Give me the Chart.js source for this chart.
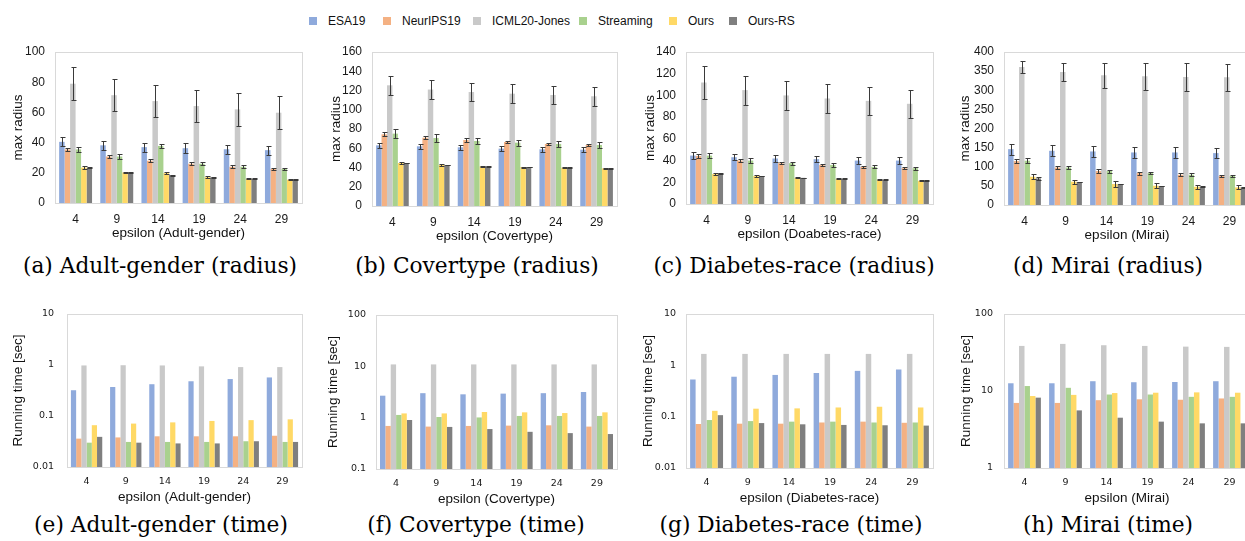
<!DOCTYPE html>
<html>
<head>
<meta charset="utf-8">
<script src="https://cdn.jsdelivr.net/npm/chart.js@4.4.1/dist/chart.umd.min.js"></script>
<style>
  body { margin: 0; width: 1245px; height: 541px; overflow: hidden; background: #fff; position: relative; }
  canvas { position: absolute; }
  .cap { position: absolute; font-family: "DejaVu Serif"; font-size: 21.7px; line-height: 22px; color: #000; white-space: nowrap; transform: translateX(-50%); }
  .lg-sw { position: absolute; top: 17px; width: 8px; height: 8px; }
  .lg-tx { position: absolute; top: 14px; font-family: "Liberation Sans"; font-size: 12px; line-height: 14px; color: #111; white-space: nowrap; }
</style>
</head>
<body>

<script>
// series / categories
var seriesNames = ['ESA19', 'NeurIPS19', 'ICML20-Jones', 'Streaming', 'Ours', 'Ours-RS'];
var seriesColors = ['#8faadc', '#f4b183', '#c9c9c9', '#a9d18e', '#ffd966', '#7f7f7f'];
var epsilons = ['4', '9', '14', '19', '24', '29'];

// rows follow seriesNames order
var adultRadius = [
    [40.5, 38.2, 37, 36.3, 35.6, 35],
    [35.5, 30.8, 28, 26, 24, 22.6],
    [79, 71.4, 67.5, 64.2, 62, 59.8],
    [35.5, 30.8, 37.8, 26, 24, 22.6],
    [23.5, 20.2, 19.8, 17.1, 16, 15.4],
    [23.3, 20.2, 18.5, 17, 16, 15.5]
];
var adultRadiusErr = [
    [3, 3, 3, 3.2, 3, 3],
    [1, 1, 1, 1, 1, 0.7],
    [10.8, 10.8, 10.7, 10.7, 11, 11],
    [1.5, 1.5, 1.5, 1, 1, 0.7],
    [1, 0.5, 0.5, 0.5, 0.3, 0.3],
    [0.3, 0.3, 0.3, 0.3, 0.3, 0.3]
];

var coverRadius = [
    [63, 62, 61, 59.6, 58.9, 58.5],
    [74.5, 71, 68.6, 66.5, 64.4, 63.4],
    [125.4, 121, 118.4, 116.7, 115.3, 114],
    [75.2, 70.6, 67.5, 65.8, 64.5, 63.4],
    [44.7, 42.6, 41.2, 40.5, 39.8, 39.1],
    [44.7, 42.6, 41.2, 40.5, 39.8, 39.1]
];
var coverRadiusErr = [
    [2.8, 2.8, 2.8, 2.8, 2.8, 2.8],
    [2, 1.7, 1.7, 1.5, 1.5, 1.5],
    [9.7, 10, 9.7, 9.9, 9.7, 9.7],
    [4.7, 4, 3.5, 3, 3, 3],
    [1, 0.8, 0.7, 0.5, 0.5, 0.5],
    [0.3, 0.3, 0.3, 0.3, 0.3, 0.3]
];

var diabRadius = [
    [44.6, 43.1, 41.9, 41.3, 40, 40],
    [44.3, 40, 37.6, 35.8, 34.2, 33],
    [111.9, 104.9, 100, 97.2, 95, 92.3],
    [44.6, 40, 37.6, 36, 34.2, 33],
    [27.5, 25.7, 24.1, 23.2, 22.3, 21.4],
    [28.1, 25.7, 24.1, 23.2, 22.3, 21.4]
];
var diabRadiusErr = [
    [3, 3, 3, 3, 3, 3],
    [1.5, 1, 1, 1, 1, 1],
    [15, 13.3, 13, 13, 12.8, 12.7],
    [2, 2, 1.5, 1.5, 1.5, 1.5],
    [1.2, 0.8, 0.4, 0.4, 0.4, 0.4],
    [0.3, 0.3, 0.3, 0.3, 0.3, 0.3]
];

var miraiRadius = [
    [146, 141.7, 140, 137.4, 137.4, 135.7],
    [114.8, 98, 88.7, 83.5, 79, 75.7],
    [361, 347.8, 339, 336.5, 334.8, 334],
    [115.7, 98, 88.7, 83.5, 79, 75.7],
    [74, 61, 54.8, 50.4, 47.8, 46],
    [69.6, 60, 54.8, 49.6, 47.8, 46]
];
var miraiRadiusErr = [
    [14, 14, 14, 14, 14, 14],
    [6, 5, 5, 4, 3.5, 3.5],
    [15, 23.5, 32.6, 35, 35.6, 35.6],
    [6, 5, 4, 3.5, 3.5, 3.5],
    [6, 5, 8, 7, 5, 5],
    [4, 1, 1, 1, 1, 1]
];

var adultTime = [
    [0.32, 0.37, 0.42, 0.48, 0.53, 0.57],
    [0.036, 0.038, 0.040, 0.040, 0.040, 0.041],
    [0.98, 0.99, 0.98, 0.94, 0.91, 0.91],
    [0.030, 0.031, 0.031, 0.031, 0.032, 0.031],
    [0.066, 0.071, 0.075, 0.080, 0.083, 0.086],
    [0.039, 0.030, 0.029, 0.029, 0.032, 0.031]
];
var coverTime = [
    [2.68, 3.0, 2.85, 2.94, 3.0, 3.16],
    [0.69, 0.67, 0.69, 0.70, 0.71, 0.67],
    [10.9, 10.9, 10.9, 10.9, 10.9, 10.9],
    [1.13, 1.03, 1.01, 1.08, 1.08, 1.08],
    [1.21, 1.21, 1.29, 1.27, 1.23, 1.27],
    [0.90, 0.66, 0.60, 0.53, 0.50, 0.48]
];
var diabTime = [
    [0.53, 0.60, 0.65, 0.71, 0.78, 0.83],
    [0.072, 0.073, 0.073, 0.077, 0.080, 0.076],
    [1.67, 1.67, 1.67, 1.67, 1.67, 1.67],
    [0.086, 0.082, 0.080, 0.080, 0.077, 0.077],
    [0.13, 0.143, 0.145, 0.151, 0.156, 0.151],
    [0.107, 0.075, 0.071, 0.069, 0.068, 0.067]
];
var miraiTime = [
    [12.6, 12.6, 13.4, 13.0, 13.1, 13.4],
    [7.0, 7.0, 7.6, 7.8, 7.7, 8.0],
    [38.5, 40.9, 39.3, 38.5, 37.7, 37.4],
    [11.6, 11.0, 9.0, 9.0, 8.4, 8.4],
    [8.6, 8.9, 9.4, 9.5, 9.6, 9.5],
    [8.2, 5.6, 4.5, 4.0, 3.8, 3.8]
];

// tick labels
var adultRadiusTicks = [0, 10, 20, 30, 40, 50, 60, 70, 80, 90, 100];
var coverRadiusTicks = [0, 20, 40, 60, 80, 100, 120, 140, 160];
var diabRadiusTicks = [0, 20, 40, 60, 80, 100, 120, 140];
var miraiRadiusTicks = [0, 50, 100, 150, 200, 250, 300, 350, 400];
var adultTimeTicks = [0.01, 0.1, 1, 10];
var coverTimeTicks = [0.1, 1, 10, 100];
var diabTimeTicks = [0.01, 0.1, 1, 10];
var miraiTimeTicks = [1, 10, 100];

// legend (Excel 스타일 위치)
var legendX = [309, 383, 473, 579, 669, 729];
seriesNames.forEach(function (name, i) {
    var sw = document.createElement('div');
    sw.className = 'lg-sw';
    sw.style.left = legendX[i] + 'px';
    sw.style.background = seriesColors[i];
    document.body.appendChild(sw);
    var tx = document.createElement('div');
    tx.className = 'lg-tx';
    tx.style.left = (legendX[i] + 19) + 'px';
    tx.textContent = name;
    document.body.appendChild(tx);
});

// 축 테두리
var framePlugin = {
    id: 'frame',
    beforeDatasetsDraw: function (chart) {
        var a = chart.chartArea, ctx = chart.ctx;
        ctx.save();
        ctx.strokeStyle = '#d9d9d9';
        ctx.lineWidth = 1;
        ctx.strokeRect(Math.round(a.left) + 0.5, Math.round(a.top) + 0.5,
            Math.round(a.right - a.left), Math.round(a.bottom - a.top));
        ctx.restore();
    }
};

function errorPlugin(errs) {
    return {
        id: 'errbars',
        afterDatasetsDraw: function (chart) {
            if (!errs) return;
            var ctx = chart.ctx, y = chart.scales.y;
            ctx.save();
            ctx.strokeStyle = '#3a3a3a';
            ctx.lineWidth = 1;
            chart.data.datasets.forEach(function (ds, i) {
                chart.getDatasetMeta(i).data.forEach(function (bar, j) {
                    var v = ds.data[j], e = errs[i][j];
                    var x = Math.round(bar.x) + 0.5;
                    var t = Math.round(y.getPixelForValue(v + e)) + 0.5;
                    var b = Math.round(y.getPixelForValue(v - e)) + 0.5;
                    ctx.beginPath();
                    ctx.moveTo(x, t); ctx.lineTo(x, b);
                    ctx.moveTo(x - 2, t); ctx.lineTo(x + 3, t);
                    ctx.moveTo(x - 2, b); ctx.lineTo(x + 3, b);
                    ctx.stroke();
                });
            });
            ctx.restore();
        }
    };
}

function drawPanel(p) {
    var cv = document.createElement('canvas');
    cv.width = p.cw; cv.height = p.ch;
    cv.style.left = p.cl + 'px'; cv.style.top = p.ct + 'px';
    cv.style.width = p.cw + 'px'; cv.style.height = p.ch + 'px';
    document.body.appendChild(cv);

    var cap = document.createElement('div');
    cap.className = 'cap';
    cap.style.left = p.capX + 'px';
    cap.style.top = p.capY + 'px';
    cap.textContent = p.caption;
    document.body.appendChild(cap);

    var datasets = p.values.map(function (row, i) {
        return {
            label: seriesNames[i],
            data: row,
            backgroundColor: seriesColors[i],
            borderWidth: 0,
            categoryPercentage: 0.8,
            barPercentage: 1.0
        };
    });

    var tickFont = p.log ? { family: 'DejaVu Sans', size: 9.5 } : { family: 'Liberation Sans', size: 12 };
    var ticks = p.ticks;

    new Chart(cv.getContext('2d'), {
        type: 'bar',
        data: { labels: epsilons, datasets: datasets },
        plugins: [framePlugin, errorPlugin(p.errs)],
        options: {
            responsive: false,
            animation: false,
            devicePixelRatio: 1,
            layout: { padding: { top: 8, right: 2, left: 0, bottom: 0 } },
            plugins: { legend: { display: false }, tooltip: { enabled: false } },
            scales: {
                x: {
                    grid: { display: false, drawTicks: false },
                    border: { display: false },
                    ticks: { color: '#1a1a1a', font: tickFont, padding: 9, maxRotation: 0 },
                    title: { display: true, text: p.xTitle, color: '#111', font: { family: 'Liberation Sans', size: 13.5 }, padding: { top: 0, bottom: 0 } },
                    afterFit: function (s) { s.height = 38; s.paddingLeft = 0; s.paddingRight = 0; }
                },
                y: {
                    type: p.log ? 'logarithmic' : 'linear',
                    min: ticks[0],
                    max: ticks[ticks.length - 1],
                    grid: { display: false, drawTicks: false },
                    border: { display: false },
                    afterBuildTicks: function (s) {
                        s.ticks = ticks.map(function (v) { return { value: v }; });
                    },
                    ticks: {
                        color: '#1a1a1a', font: tickFont, padding: p.tickPad,
                        callback: function (v) { return String(v); }
                    },
                    title: { display: true, text: p.yTitle, color: '#111', font: { family: 'Liberation Sans', size: 13.5 }, padding: { top: 10, bottom: 0 } },
                    afterFit: function (s) { s.width = p.yw; s.paddingTop = 0; s.paddingBottom = 0; }
                }
            }
        }
    });
}

var panels = [
    { values: adultRadius, errs: adultRadiusErr, ticks: adultRadiusTicks, log: false, yTitle: 'max radius', xTitle: 'epsilon (Adult-gender)', caption: '(a) Adult-gender (radius)',
      cl: 0, ct: 44, cw: 304, ch: 197, yw: 55, tickPad: 10, capX: 160, capY: 255 },
    { values: coverRadius, errs: coverRadiusErr, ticks: coverRadiusTicks, log: false, yTitle: 'max radius', xTitle: 'epsilon (Covertype)', caption: '(b) Covertype (radius)',
      cl: 318, ct: 44, cw: 301, ch: 200, yw: 54, tickPad: 10, capX: 477, capY: 255 },
    { values: diabRadius, errs: diabRadiusErr, ticks: diabRadiusTicks, log: false, yTitle: 'max radius', xTitle: 'epsilon (Doabetes-race)', caption: '(c) Diabetes-race (radius)',
      cl: 632, ct: 44, cw: 303, ch: 198, yw: 54, tickPad: 10, capX: 794, capY: 255 },
    { values: miraiRadius, errs: miraiRadiusErr, ticks: miraiRadiusTicks, log: false, yTitle: 'max radius', xTitle: 'epsilon (Mirai)', caption: '(d) Mirai (radius)',
      cl: 947, ct: 44, cw: 305, ch: 199, yw: 57, tickPad: 10, capX: 1108, capY: 255 },
    { values: adultTime, errs: null, ticks: adultTimeTicks, log: true, yTitle: 'Running time [sec]', xTitle: 'epsilon (Adult-gender)', caption: '(e) Adult-gender (time)',
      cl: 0, ct: 306, cw: 304, ch: 199, yw: 67, tickPad: 13, capX: 161, capY: 514 },
    { values: coverTime, errs: null, ticks: coverTimeTicks, log: true, yTitle: 'Running time [sec]', xTitle: 'epsilon (Covertype)', caption: '(f) Covertype (time)',
      cl: 315, ct: 307, cw: 304, ch: 200, yw: 61, tickPad: 10, capX: 476, capY: 514 },
    { values: diabTime, errs: null, ticks: diabTimeTicks, log: true, yTitle: 'Running time [sec]', xTitle: 'epsilon (Diabetes-race)', caption: '(g) Diabetes-race (time)',
      cl: 630, ct: 306, cw: 305, ch: 200, yw: 56, tickPad: 10, capX: 791, capY: 514 },
    { values: miraiTime, errs: null, ticks: miraiTimeTicks, log: true, yTitle: 'Running time [sec]', xTitle: 'epsilon (Mirai)', caption: '(h) Mirai (time)',
      cl: 948, ct: 306, cw: 304, ch: 200, yw: 56, tickPad: 11, capX: 1108, capY: 514 }
];

panels.forEach(drawPanel);
</script>
</body>
</html>
